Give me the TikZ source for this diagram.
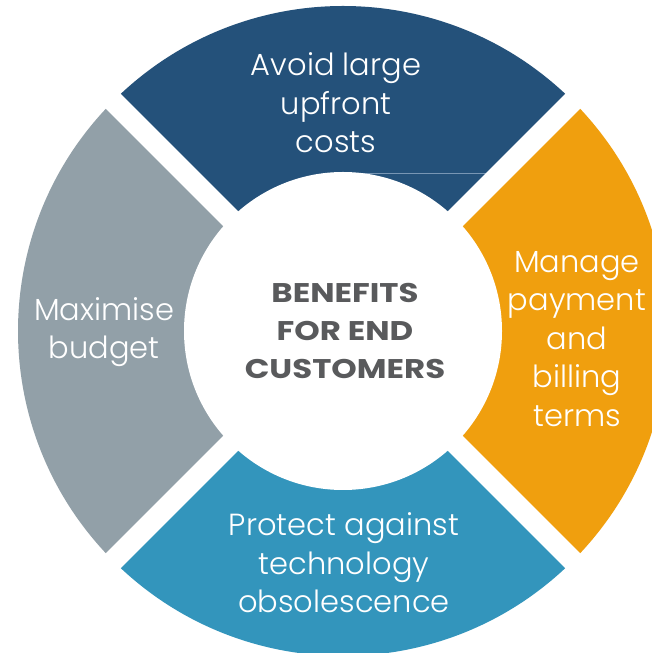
\documentclass[tikz,border=0pt]{standalone}
\usepackage{fontspec}
\usetikzlibrary{calc}
\IfFontExistsTF{Poppins Light}{%
  \newfontfamily\lightfont{Poppins Light}%
}{%
  \newfontfamily\lightfont{Poppins}%
}
\IfFontExistsTF{Poppins Bold}{%
  \newfontfamily\titlefont{Poppins Bold}[FakeStretch=1.2]%
}{%
  \newfontfamily\titlefont{Poppins}[FakeStretch=1.2, FakeBold=2]%
}
\definecolor{topblue}{RGB}{36,81,122}
\definecolor{sideorange}{RGB}{240,159,14}
\definecolor{sidegray}{RGB}{146,160,168}
\definecolor{lowblue}{RGB}{51,149,188}
\definecolor{titlegray}{RGB}{89,90,92}
\definecolor{faintline}{RGB}{120,150,180}
\tikzset{
  segtext/.style={text=white, align=center, font=\lightfont\fontsize{30.5}{38.5}\selectfont, inner sep=0pt},
  titletext/.style={text=titlegray, align=center, font=\titlefont\fontsize{27}{38}\selectfont, inner sep=0pt},
  gapband/.style={draw=white, line width=21pt}
}
\begin{document}
\begin{tikzpicture}[x=1pt,y=1pt]
\useasboundingbox (0,0) rectangle (652,653);
\clip (0,0) rectangle (652,653);
\fill[white] (0,0) rectangle (652,653);
\coordinate (C) at (343,322);
% sectors
\fill[topblue] (C) -- ++(45:325) arc (45:135:325) -- cycle;
\fill[sidegray] (C) -- ++(135:325) arc (135:225:325) -- cycle;
\fill[lowblue] (C) -- ++(225:325) arc (225:315:325) -- cycle;
\fill[sideorange] (C) -- ++(315:325) arc (-45:45:325) -- cycle;
% faint line
\coordinate (fa) at (350,480);
\coordinate (fb) at (487,480);
\draw[faintline, line width=0.6pt] (fa) -- (fb);
% gaps
\draw[gapband] ($(C)+(45:345)$) -- ($(C)+(225:345)$);
\draw[gapband] ($(C)+(135:345)$) -- ($(C)+(315:345)$);
% hub
\fill[white] (C) circle (159);
% texts
\node[segtext] (top) at (336,550) {Avoid large\\upfront\\costs};
\node[segtext] (right) at (577,314) {Manage\\payment\\and\\billing\\terms};
\node[segtext] (left) at (104,321) {Maximise\\budget};
\node[segtext] (bottom) at (344,90) {Protect against\\technology\\obsolescence};
\node[titletext] (title) at (345,322) {BENEFITS\\FOR END\\CUSTOMERS};
\end{tikzpicture}
\end{document}
